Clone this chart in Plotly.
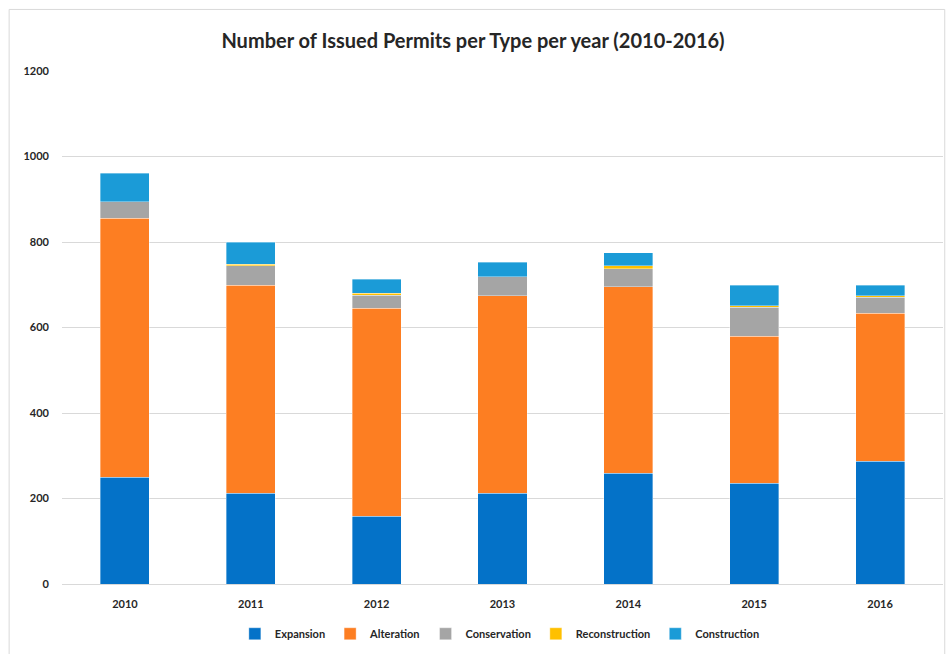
import plotly.graph_objects as go

years = ["2010", "2011", "2012", "2013", "2014", "2015", "2016"]
expansion = [250, 212, 159, 212, 259, 236, 287]
alteration = [606, 487, 486, 462, 436, 343, 346]
conservation = [38, 46, 31, 45, 42, 68, 38]
reconstruction = [0, 3, 4, 0, 7, 4, 3]
construction = [67, 51, 33, 34, 31, 48, 25]
y_ticks = [0, 200, 400, 600, 800, 1000, 1200]

series = [
    ("Expansion", expansion, "#0472C8"),
    ("Alteration", alteration, "#FD7E22"),
    ("Conservation", conservation, "#A5A5A5"),
    ("Reconstruction", reconstruction, "#FFC000"),
    ("Construction", construction, "#1B9BD7"),
]

fig = go.Figure()
for name, vals, color in series:
    fig.add_trace(go.Bar(
        name=name, x=years, y=vals,
        marker=dict(color=color, line=dict(width=0.6, color="rgba(255,255,255,0.6)")),
    ))

font_family = "Lato, 'Open Sans', sans-serif"
fig.update_layout(
    barmode="stack",
    bargap=0.61,
    width=946, height=654,
    paper_bgcolor="white", plot_bgcolor="white",
    margin=dict(l=62, r=3, t=71, b=70),
    title=dict(
        text="<b>Number of Issued Permits per Type per year (2010-2016)</b>",
        x=0.5, xanchor="center", y=0.937, yanchor="middle",
        font=dict(family=font_family, size=20, color="#262626"),
    ),
    font=dict(family=font_family, size=11, color="#262626"),
    xaxis=dict(
        showgrid=False, showline=True, linecolor="#D9D9D9", linewidth=1,
        ticks="", ticklabelstandoff=10,
        tickfont=dict(size=11, color="#262626", weight="bold"),
    ),
    yaxis=dict(
        range=[0, 1200], tickvals=y_ticks, showgrid=True, gridcolor="#D9D9D9",
        gridwidth=1, zeroline=False, ticks="", ticklabelstandoff=12,
        tickfont=dict(size=11, color="#262626", weight="bold"),
    ),
    legend=dict(
        orientation="h", x=0.497, xanchor="center", y=-0.097, yanchor="middle",
        font=dict(size=11, color="#262626", weight="bold"),
        itemwidth=30, traceorder="normal",
    ),
    shapes=[dict(
        type="rect", xref="paper", yref="paper",
        x0=-0.06, x1=1.002, y0=-0.14, y1=1.12,
        line=dict(color="#D9D9D9", width=1), fillcolor="rgba(0,0,0,0)",
    )],
)

fig.write_html("out.html")
